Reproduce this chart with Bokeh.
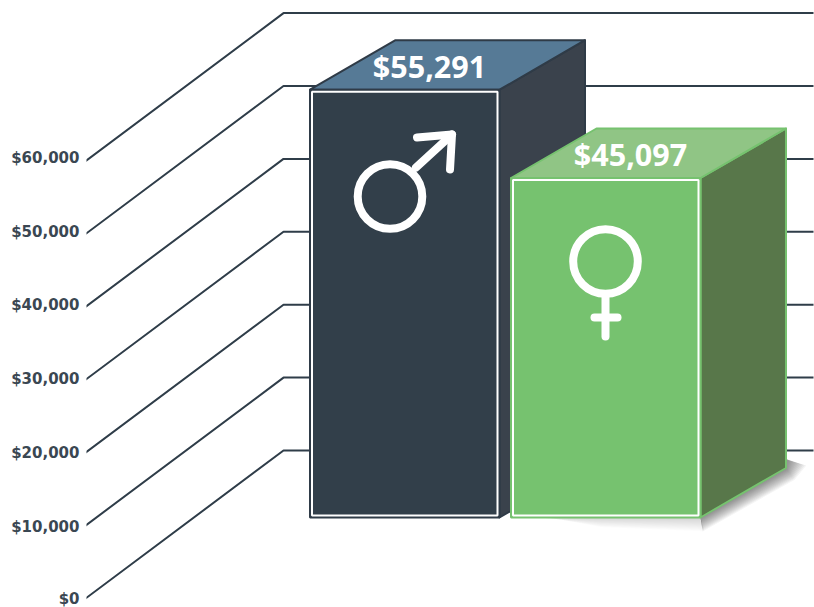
from bokeh.plotting import figure
from bokeh.embed import file_html
from bokeh.resources import INLINE
from bokeh.models import Range1d, LinearAxis, FixedTicker, NumeralTickFormatter
from bokeh.core.properties import value

categories = ["Male", "Female"]
earnings = [55291, 45097]
value_labels = ["$55,291", "$45,097"]
axis_ticks = [0, 10000, 20000, 30000, 40000, 50000, 60000]

front_colors = ["#323F4A", "#76C26F"]
top_colors = ["#567A96", "#90C585"]
side_colors = ["#3A424C", "#58774A"]
edge_colors = ["#2F3B47", "#76C26F"]
INK = "#2F3D49"

# The chart's oblique projection, in screen pixels
PX_PER_10K = 72.9
FLOOR_Y = 599
WALL_X0, WALL_X1, RIGHT = 284, 814, 814
LEFT = 86
WALL_RISE = 148
BAR_LEFT = [310.5, 511.5]
BAR_W = 189.5
BAR_BASE_PX = 518
DX, DY = 85.5, 49.5
BAR_SCALE = [1.0613, 1.0327]  # pictured height relative to the axis scale


def usd(px):
    return px / PX_PER_10K * 10000


p = figure(width=814, height=607, output_backend="svg", toolbar_location=None,
           x_axis_location=None, y_axis_location=None,
           x_range=Range1d(LEFT + 1, RIGHT + 1),
           y_range=Range1d(usd(FLOOR_Y - 608), usd(FLOOR_Y - 1)),
           min_border_left=LEFT, min_border_right=0, min_border_top=0, min_border_bottom=0)
p.grid.visible = False
p.outline_line_color = None
p.background_fill_color = "white"
p.border_fill_color = "white"

# Screen-pixel range for decoration (shadow, symbols)
p.extra_y_ranges["screen"] = Range1d(608, 1)
# Axis labels run at a slightly wider spacing than the wall lines
LABEL_PX = 73.8
p.extra_y_ranges["labels"] = Range1d(-7 / LABEL_PX * 10000, 600 / LABEL_PX * 10000)

axis = LinearAxis(y_range_name="labels", ticker=FixedTicker(ticks=axis_ticks),
                  formatter=NumeralTickFormatter(format="$0,0"))
axis.axis_line_color = None
axis.major_tick_line_color = None
axis.minor_tick_line_color = None
axis.major_tick_out = 0
axis.major_tick_in = 0
axis.major_label_standoff = 7
axis.major_label_text_font = "DejaVu Sans"
axis.major_label_text_font_style = "bold"
axis.major_label_text_font_size = "15px"
axis.major_label_text_color = "#3A4752"
p.add_layout(axis, "left")

# Floor diagonals and back-wall lines
rise = usd(WALL_RISE)
for t in axis_ticks:
    p.line([LEFT, WALL_X0, WALL_X1], [t, t + rise, t + rise], line_color=INK, line_width=2)

# Soft shadow of the front bar, built of growing translucent layers
sx, sw = BAR_LEFT[1], BAR_W
rx, ry = sx + sw + DX, BAR_BASE_PX - DY
bx, by = sx + sw, BAR_BASE_PX
for grow in range(1, 15):
    g = float(grow)
    # under the front face: faint
    p.patch([sx + 10 + g * 2, bx, bx + g * 0.3, sx + 90],
            [by, by, by + g * 1.0, by + g * 0.7],
            y_range_name="screen", fill_color="#222222", fill_alpha=0.012, line_color=None)
    # along the side face: stronger
    p.patch([bx, rx, rx, rx + g * 1.45, rx + g * 0.6, bx + g * 0.15],
            [by, ry, ry - 9, ry - 8 + g * 0.4, ry + g * 0.85, by + g * 1.0],
            y_range_name="screen", fill_color="#222222", fill_alpha=0.042, line_color=None)

base = usd(FLOOR_Y - BAR_BASE_PX)
dy = usd(DY)
for i, v in enumerate(earnings):
    x0 = BAR_LEFT[i]
    x1 = x0 + BAR_W
    top = base + v * BAR_SCALE[i]
    # side
    p.patch([x1, x1 + DX, x1 + DX, x1], [base, base + dy, top + dy, top],
            fill_color=side_colors[i], line_color=edge_colors[i], line_width=2, line_join="round")
    # top
    p.patch([x0, x0 + DX, x1 + DX, x1], [top, top + dy, top + dy, top],
            fill_color=top_colors[i], line_color=edge_colors[i], line_width=2, line_join="round")
    # front
    p.quad(left=x0, right=x1, bottom=base, top=top, fill_color=front_colors[i],
           line_color=edge_colors[i], line_width=2)
    inset = 2
    p.quad(left=x0 + inset, right=x1 - inset, bottom=base + usd(inset), top=top - usd(inset),
           fill_color=None, line_color="white", line_width=2)
    # value on the top face
    p.text(x=[(x0 + x1 + DX) / 2 - 18], y=[top + usd(23.5)], text=[value_labels[i]],
           text_color="white", text_font=value("Open Sans"), text_font_style="bold",
           text_font_size="30.5px", text_align="center", text_baseline="middle")

# Gender symbols
W = 8
male_x, male_y, r = BAR_LEFT[0] + 80, 197, 32.3
p.scatter([male_x], [male_y], y_range_name="screen", marker="circle", size=2 * r,
          fill_color=None, line_color="white", line_width=W)
p.line([male_x + 26, male_x + 62], [male_y - 29, male_y - 62], y_range_name="screen",
       line_color="white", line_width=W, line_cap="round")
p.line([male_x + 27, male_x + 62, male_x + 60], [male_y - 59, male_y - 62, male_y - 27],
       y_range_name="screen", line_color="white", line_width=W, line_cap="round", line_join="round")

fem_x, fem_y = BAR_LEFT[1] + 94.5, 262
p.scatter([fem_x], [fem_y], y_range_name="screen", marker="circle", size=2 * r,
          fill_color=None, line_color="white", line_width=W)
p.line([fem_x, fem_x], [fem_y + 36, fem_y + 75], y_range_name="screen",
       line_color="white", line_width=W, line_cap="round")
p.line([fem_x - 11, fem_x + 12], [fem_y + 56, fem_y + 56], y_range_name="screen",
       line_color="white", line_width=W, line_cap="round")

open("out.html", "w").write(file_html(p, INLINE))
